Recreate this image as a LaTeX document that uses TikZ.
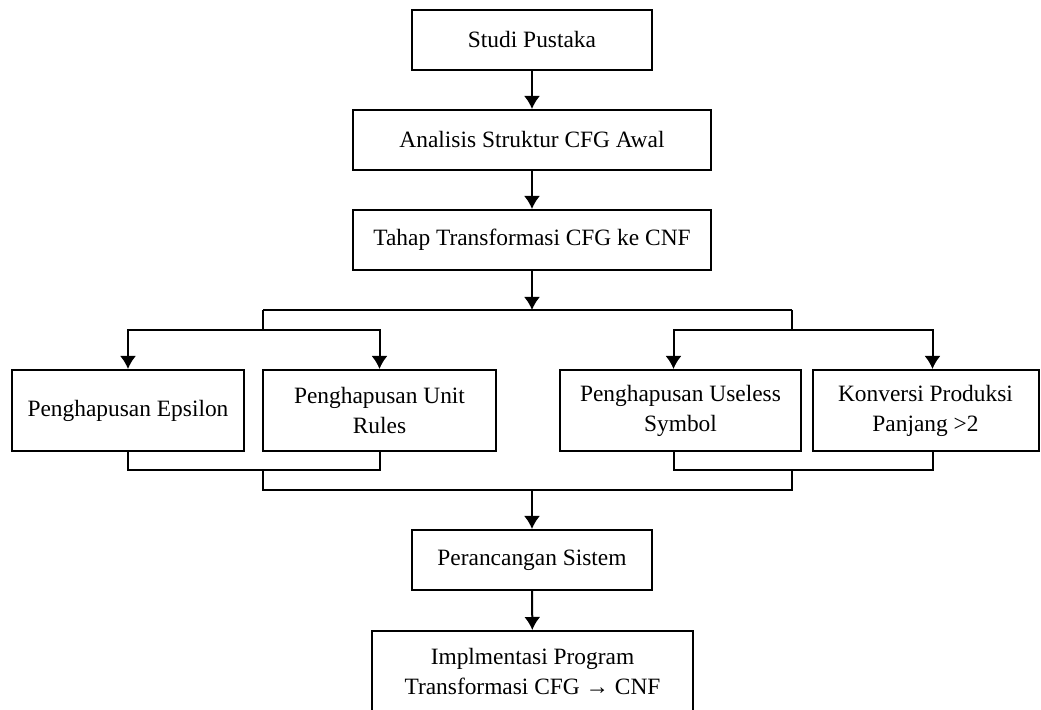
\documentclass[tikz,border=0pt]{standalone}
\usepackage{fontspec}
\setmainfont{Liberation Serif}
\usetikzlibrary{positioning,shapes,arrows.meta,calc}

\tikzset{
  stepbox/.style={draw, line width=1pt, inner sep=0pt, align=center,
    font=\fontsize{11.7}{15}\selectfont},
  flow/.style={line width=1pt},
}

\begin{document}
\begin{tikzpicture}[x=0.5pt, y=-0.5pt, >={Latex[length=6.5pt,width=8pt]}]
  \useasboundingbox (0,0) rectangle (1041,710);
  %% main steps
  \node[stepbox, minimum width=120pt, minimum height=30pt] (studi) at (532,40) {Studi Pustaka};
  \node[stepbox, minimum width=179pt, minimum height=30pt] (analisis) at (532,140) {Analisis Struktur CFG Awal};
  \node[stepbox, minimum width=179pt, minimum height=30pt] (tahap) at (532,240) {Tahap Transformasi CFG ke CNF};
  %% transformation steps
  \node[stepbox, minimum width=116pt, minimum height=40.5pt] (epsilon) at (128,410.5) {Penghapusan Epsilon};
  \node[stepbox, minimum width=116.5pt, minimum height=40.5pt] (unit) at (379.5,410.5) {Penghapusan Unit\\Rules};
  \node[stepbox, minimum width=120.5pt, minimum height=40.5pt] (useless) at (680.5,410.5) {Penghapusan Useless\\Symbol};
  \node[stepbox, minimum width=113pt, minimum height=40.5pt] (konversi) at (925.5,410.5) {Konversi Produksi\\Panjang >2};
  %% last steps
  \node[stepbox, minimum width=120pt, minimum height=30pt] (rancang) at (532,560) {Perancangan Sistem};
  \node[stepbox, minimum width=160.5pt, minimum height=41pt] (implementasi) at (532.5,672) {Implmentasi Program\\Transformasi CFG → CNF};
  %
  % split and join points
  \coordinate (split) at (532,310);
  \coordinate (splitL) at (263,310);
  \coordinate (splitR) at (792,310);
  \coordinate (forkL) at (263,330);
  \coordinate (forkR) at (792,330);
  \coordinate (mergeL) at (263,470);
  \coordinate (mergeR) at (792,470);
  \coordinate (joinL) at (263,490);
  \coordinate (joinR) at (792,490);
  \coordinate (join) at (532,490);
  %
  \draw[flow,->] (studi) -- (analisis);
  \draw[flow,->] (analisis) -- (tahap);
  \draw[flow,->] (tahap) -- (split);
  \draw[flow] (splitL) -- (splitR);
  \draw[flow] (splitL) -- (forkL);
  \draw[flow] (splitR) -- (forkR);
  \draw[flow,->] (forkL) -| (epsilon.north);
  \draw[flow,->] (forkL) -| (unit.north);
  \draw[flow,->] (forkR) -| ([xshift=-3.5pt]useless.north);
  \draw[flow,->] (forkR) -| ([xshift=3.5pt]konversi.north);
  %
  \draw[flow] (epsilon.south) |- (mergeL) -| (unit.south);
  \draw[flow] ([xshift=-3.5pt]useless.south) |- (mergeR) -| ([xshift=3.5pt]konversi.south);
  \draw[flow] (mergeL) -- (joinL) -- (joinR) -- (mergeR);
  \draw[flow,->] (join) -- (rancang);
  \draw[flow,->] (rancang) -- (implementasi);
\end{tikzpicture}
\end{document}
